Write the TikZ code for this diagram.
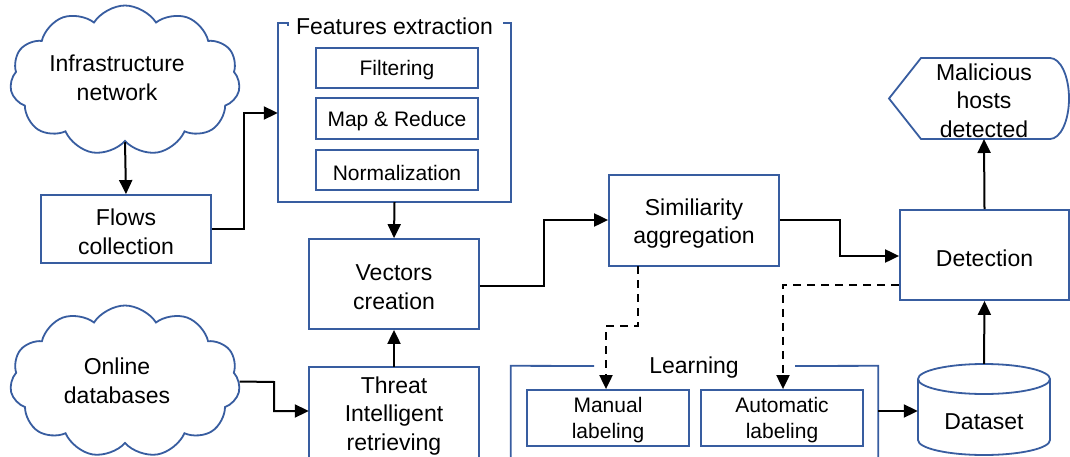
\documentclass[tikz,border=0pt]{standalone}
\usepackage{fontspec}
\setmainfont{Liberation Sans}
\usetikzlibrary{shapes.symbols,arrows.meta}
\definecolor{boxblue}{RGB}{56,93,160}
\tikzset{
  txt/.style={inner sep=0pt, align=center, font=\fontsize{23}{28.5}\selectfont},
  smalltxt/.style={txt, font=\fontsize{21}{26}\selectfont},
  bx/.style={draw=boxblue, line width=1.8pt, rectangle, inner sep=0pt},
  bigtext/.style={label={[txt, yshift=-3pt]center:#1}},
  smalltext/.style={label={[smalltxt, yshift=-2.5pt]center:#1}},
  cloudbx/.style={draw=boxblue, line width=1.8pt, cloud, cloud puffs=11, cloud puff arc=115,
    cloud ignores aspect, inner sep=0pt},
  frame/.style={draw=boxblue, line width=1.8pt},
  conn/.style={line width=2pt, -{Triangle[length=14pt,width=13pt]}},
  dconn/.style={conn, dash pattern=on 8pt off 6pt},
}
\begin{document}
\begin{tikzpicture}[x=1pt,y=-1pt]
\useasboundingbox (0,0) rectangle (1070,457);
\fill[white] (0,0) rectangle (1070,457);

% clouds
\node[cloudbx, minimum width=230pt, minimum height=150pt] (infra) at (125,80.5) {};
\node[txt] (infratxt) at (117,78) {Infrastructure\\network};
\node[cloudbx, minimum width=230pt, minimum height=152pt] (online) at (125,381.5) {};
\node[txt] (onlinetxt) at (117,381) {Online\\databases};

% flows collection
\node[bx, minimum width=170pt, minimum height=68pt, bigtext={Flows\\collection}] (flows) at (126,229) {};

% features extraction container
\node[txt] (fetitle) at (394.5,26) {Features extraction};
\node[inner sep=0pt, minimum width=233pt, minimum height=179pt] (fe) at (394.5,112.5) {};
\draw[frame] (fetitle.west) ++(-8pt,0) coordinate (fa) -- (fa |- fe.north) -- (fe.north west) -- (fe.south west) -- (fe.south east) -- (fe.north east) -- ++(-8pt,0) coordinate (fb);
\node[bx, minimum width=162pt, minimum height=40pt, smalltext={Filtering}] (filt) at (397,68) {};
\node[bx, minimum width=162pt, minimum height=41pt, smalltext={Map \& Reduce}] (map) at (397,118.5) {};
\node[bx, minimum width=162pt, minimum height=40pt, smalltext={Normalization}] (norm) at (397,170) {};

% vectors & threat
\node[bx, minimum width=170pt, minimum height=90pt, bigtext={Vectors\\creation}] (vec) at (394,284) {};
\node[inner sep=0pt, minimum width=170pt, minimum height=110pt] (thr) at (394,422) {};
\draw[frame] (thr.north west) rectangle (thr.south east);
\node[txt] (thrtxt) at (394,416) {Threat\\Intelligent\\retrieving};

% similarity
\node[bx, minimum width=170pt, minimum height=91pt, bigtext={Similiarity\\aggregation}] (sim) at (694,220.5) {};

% detection
\node[bx, minimum width=169pt, minimum height=90pt, bigtext={Detection}] (det) at (984.5,255) {};

% malicious hosts detected (display shape)
\node[txt, minimum width=160pt, minimum height=81pt] (mal) at (980,98.5) {};
\draw[frame] (889,98.5) -- (921,58) -- (1050,58) arc[start angle=90, end angle=-90, x radius=19pt, y radius=40.5pt] -- (921,139) -- cycle;
\node[txt] (maltxt) at (984,100.5) {Malicious\\hosts\\detected};

% learning container
\node[txt] (lrtitle) at (694,368) {Learning};
\node[inner sep=0pt, minimum width=367pt, minimum height=110pt] (lr) at (694.5,421) {};
\draw[frame] (594,366) -- (lr.north west) -- (lr.south west);
\draw[frame] (795,366) -- (lr.north east) -- (lr.south east);
\node[bx, minimum width=162pt, minimum height=56pt, smalltext={Manual\\labeling}] (man) at (608,418) {};
\node[bx, minimum width=162pt, minimum height=56pt, smalltext={Automatic\\labeling}] (auto) at (782,418) {};

% dataset cylinder
\node[inner sep=0pt, minimum width=132pt, minimum height=106pt] (ds) at (984,417) {};
\draw[frame] (984,379) ellipse [x radius=66pt, y radius=15pt];
\draw[frame] (918,379) -- (918,440) arc[start angle=180, end angle=360, x radius=66pt, y radius=15pt] -- (1050,379);
\node[txt] (dstxt) at (984,422) {Dataset};

% connectors
\draw[conn] (infra.south) -- (flows.north);
\draw[conn] (flows.east) -- (244,229) -- (244,113) -- (fe.west |- 0,113);
\draw[conn] (fe.south) -- (vec.north);
\draw[conn] (thr.north) -- (vec.south);
\draw[conn] (online.east) -- (274,382) -- (274,411) -- (thr.west |- 0,411);
\draw[conn] (vec.east |- 0,286) -- (544,286) -- (544,220) -- (sim.west |- 0,220);
\draw[conn] (sim.east |- 0,220) -- (840,220) -- (840,256) -- (det.west |- 0,256);
\draw[conn] (det.north) -- (maltxt.center |- 0,139);
\draw[dconn] (638,266) -- (638,326) -- (606,326) -- (man.north -| 606,0);
\draw[dconn] (det.west |- 0,285) -- (783,285) -- (auto.north -| 783,0);
\draw[conn] (lr.east |- 0,411) -- (ds.west |- 0,411);
\draw[conn] (ds.north) -- (det.south);
\end{tikzpicture}
\end{document}
